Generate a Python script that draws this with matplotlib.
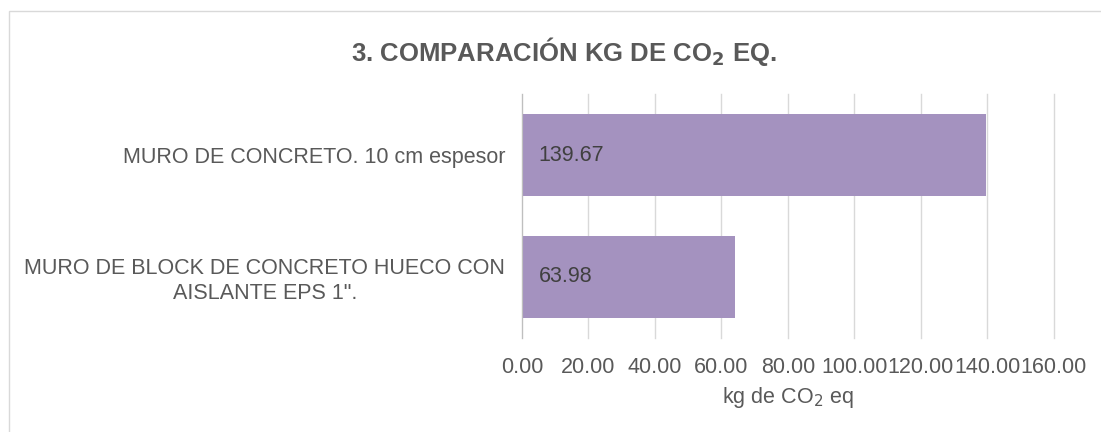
import matplotlib.pyplot as plt
from matplotlib.patches import Rectangle

categories = ['MURO DE BLOCK DE CONCRETO HUECO CON\nAISLANTE EPS 1".',
              'MURO DE CONCRETO. 10 cm espesor']
values = [63.98, 139.67]
xticks = [0, 20, 40, 60, 80, 100, 120, 140, 160]

plt.rcParams['font.family'] = ['Liberation Sans', 'DejaVu Sans']
txt = '#595959'
fs = 15.5

fig = plt.figure(figsize=(11.01, 4.32), dpi=100)
ax = fig.add_axes([0.474, 0.218, 0.483, 0.564])

bars = ax.barh(categories, values, height=0.67, color='#a492bf', zorder=2)
for bar, v in zip(bars, values):
    ax.text(5, bar.get_y() + bar.get_height() / 2, f'{v:.2f}',
            va='center', ha='left', fontsize=fs, color='#404040', zorder=3)

ax.set_xlim(0, 160)
ax.set_ylim(-0.5, 1.5)
ax.set_xticks(xticks)
ax.set_xticklabels([f'{t:.2f}' for t in xticks])
ax.grid(axis='x', color='#d9d9d9', linewidth=1, zorder=1)
for gl in ax.get_xgridlines():
    gl.set_clip_on(False)
for s in ['top', 'right', 'bottom']:
    ax.spines[s].set_visible(False)
ax.spines['left'].set_color('#bfbfbf')
ax.tick_params(axis='both', length=0, labelsize=fs, labelcolor=txt)
ax.tick_params(axis='x', pad=14)
ax.tick_params(axis='y', pad=12)
for lbl in ax.get_yticklabels():
    lbl.set_multialignment('center')
ax.set_xlabel('kg de CO$_2$ eq', fontsize=fs, color=txt, labelpad=5)

fig.text(0.512, 0.88, r'3. COMPARACIÓN KG DE CO$_\mathbf{2}$ EQ.', ha='center', va='center',
         fontsize=18.5, fontweight='bold', color=txt)

fig.patches.append(Rectangle((0.008, -0.01), 1.5, 0.985, transform=fig.transFigure,
                             fill=False, edgecolor='#d9d9d9', linewidth=1))

fig.savefig('out.png', dpi=100)
